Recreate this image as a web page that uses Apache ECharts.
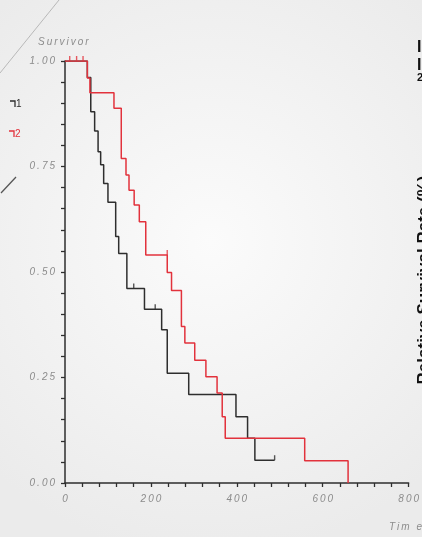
<!DOCTYPE html>
<html><head><meta charset="utf-8">
<script src="https://cdn.jsdelivr.net/npm/echarts@6/dist/echarts.min.js"></script>
<style>html,body{margin:0;padding:0;}#c{width:422px;height:537px;}</style>
</head><body><div id="c"></div>
<script>
// Group 1 (black) Kaplan-Meier steps
const g1Times = [0, 52, 60, 69, 77, 83, 90, 100, 118, 125, 144, 185, 225, 238, 288, 398, 425, 442, 488];
const g1Surv  = [1, 0.961, 0.88, 0.834, 0.785, 0.754, 0.71, 0.665, 0.584, 0.544, 0.461, 0.412, 0.363, 0.26, 0.21, 0.157, 0.106, 0.054, 0.054];
// Group 2 (red)
const g2Times = [0, 52, 58, 114, 131, 142, 149, 161, 173, 188, 238, 248, 271, 279, 302, 328, 354, 366, 373, 558, 659];
const g2Surv  = [1, 0.96, 0.925, 0.888, 0.769, 0.73, 0.694, 0.659, 0.619, 0.54, 0.499, 0.456, 0.371, 0.332, 0.291, 0.252, 0.213, 0.157, 0.106, 0.053, 0];
// censor marks
const g1CensorT = [160, 210, 488];
const g1CensorS = [0.461, 0.412, 0.054];
const g2CensorT = [11, 27, 42, 238];
const g2CensorS = [1, 1, 1, 0.54];
// axis
const xTickLabels = [0, 200, 400, 600, 800];
const yTickLabels = [0, 0.25, 0.5, 0.75, 1];
const legendNames = ['1', '2'];
const yTitle = 'Survivor';
const xTitle = 'Time';
const sideText = 'Relative Survival Rate (%)';

const sp = s => String(s).split('').join('\u2009');
const zip = (a, b) => a.map((v, i) => [v, b[i]]);
const BLACK = '#2e2e2e', RED = '#e2323c', GRAY = '#8c8c8c';
const chart = echarts.init(document.getElementById('c'));
const lblFont = {color: GRAY, fontStyle: 'italic', fontSize: 10, fontFamily: 'Liberation Sans'};
chart.setOption({
  backgroundColor: new echarts.graphic.RadialGradient(0.5, 0.45, 0.75, [
    {offset: 0, color: '#fbfbfb'}, {offset: 1, color: '#ebebeb'}]),
  animation: false,
  grid: {left: 65, right: 10.3, top: 61, bottom: 54},
  xAxis: {
    type: 'value', min: 0, max: 800, interval: 40,
    axisLine: {lineStyle: {color: BLACK, width: 1.5}},
    axisTick: {length: 4, lineStyle: {color: BLACK, width: 1.3}},
    splitLine: {show: false},
    axisLabel: Object.assign({margin: 11, showMaxLabel: true,
      formatter: v => xTickLabels.includes(v) ? sp(v) : ''}, lblFont)
  },
  yAxis: {
    type: 'value', min: 0, max: 1, interval: 0.05,
    axisLine: {lineStyle: {color: BLACK, width: 1.5}},
    axisTick: {length: 4, lineStyle: {color: BLACK, width: 1.3}},
    splitLine: {show: false},
    axisLabel: Object.assign({margin: 10,
      formatter: v => yTickLabels.some(t => Math.abs(t - v) < 1e-6) ? sp(v.toFixed(2)) : ''}, lblFont)
  },
  series: [
    {type: 'line', step: 'end', data: zip(g1Times, g1Surv), showSymbol: false,
     lineStyle: {color: BLACK, width: 1.5}, z: 3},
    {type: 'line', step: 'end', data: zip(g2Times, g2Surv), showSymbol: false,
     lineStyle: {color: RED, width: 1.5}, z: 4},
    {type: 'scatter', data: zip(g1CensorT, g1CensorS), symbol: 'rect', symbolSize: [1.4, 5],
     symbolOffset: [0, -2.5], itemStyle: {color: BLACK}, z: 5},
    {type: 'scatter', data: zip(g2CensorT, g2CensorS), symbol: 'rect', symbolSize: [1.4, 5],
     symbolOffset: [0, -2.5], itemStyle: {color: RED}, z: 5}
  ],
  graphic: [
    {type: 'line', shape: {x1: 0, y1: 73, x2: 59, y2: 0}, style: {stroke: '#b8b8b8', lineWidth: 1}},
    {type: 'line', shape: {x1: 1, y1: 193, x2: 16, y2: 177}, style: {stroke: '#555', lineWidth: 1.2}},
    {type: 'text', x: 38, y: 37, style: {text: sp(yTitle), fill: GRAY, font: 'italic 10px "Liberation Sans"'}},
    {type: 'text', x: 389, y: 522, style: {text: sp('Tim e'), fill: GRAY, font: 'italic 10px "Liberation Sans"'}},
    // legend
    {type: 'polyline', shape: {points: [[10, 101], [15, 101], [15, 107]]}, style: {stroke: BLACK, lineWidth: 1.3, fill: null}},
    {type: 'text', x: 16, y: 99, style: {text: legendNames[0], fill: BLACK, font: '10px "Liberation Sans"'}},
    {type: 'polyline', shape: {points: [[9, 131], [14, 131], [14, 137]]}, style: {stroke: RED, lineWidth: 1.3, fill: null}},
    {type: 'text', x: 15, y: 129, style: {text: legendNames[1], fill: RED, font: '10px "Liberation Sans"'}},
    // clipped slide text on the right
    {type: 'text', x: 424, y: 280, rotation: Math.PI / 2,
     style: {text: sideText, fill: '#111', font: 'bold 17px "Liberation Sans"', textAlign: 'center', textVerticalAlign: 'middle'}},
    {type: 'text', x: 417, y: 40, style: {text: 'I', fill: '#111', font: 'bold 16px "Liberation Sans"'}},
    {type: 'text', x: 417, y: 58, style: {text: 'I', fill: '#111', font: 'bold 16px "Liberation Sans"'}},
    {type: 'text', x: 417, y: 72, style: {text: '2', fill: '#111', font: 'bold 11px "Liberation Sans"'}}
  ]
});
</script></body></html>
